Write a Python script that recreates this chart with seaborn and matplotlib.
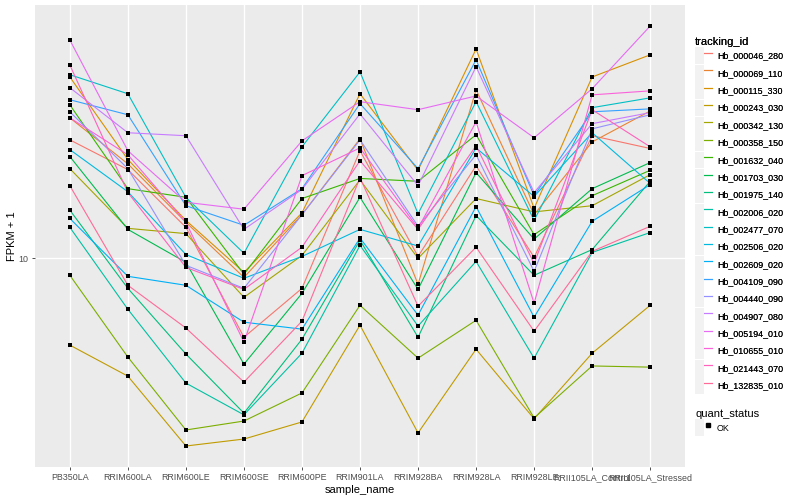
import numpy as np
import pandas as pd
import seaborn as sns
import matplotlib.pyplot as plt
from matplotlib.lines import Line2D
from matplotlib.patches import Patch
from matplotlib.legend_handler import HandlerTuple
from matplotlib.ticker import FixedLocator, FixedFormatter, NullLocator

# sample order on the x axis
samples = ['PB350LA', 'RRIM600LA', 'RRIM600LE', 'RRIM600SE', 'RRIM600PE', 'RRIM901LA',
           'RRIM928BA', 'RRIM928LA', 'RRIM928LE', 'RRII105LA_Control', 'RRII105LA_Stressed']

tracking_ids = ['Hb_000046_280', 'Hb_000069_110', 'Hb_000115_330', 'Hb_000243_030',
                'Hb_000342_130', 'Hb_000358_150', 'Hb_001632_040', 'Hb_001703_030',
                'Hb_001975_140', 'Hb_002006_020', 'Hb_002477_070', 'Hb_002506_020',
                'Hb_002609_020', 'Hb_004109_090', 'Hb_004440_090', 'Hb_004907_080',
                'Hb_005194_010', 'Hb_010655_010', 'Hb_021443_070', 'Hb_132835_010']

# FPKM + 1 per gene, one value per sample
hb_000046_280 = [24.9, 19.8, 12.7, 5.45, 7.94, 22.9, 10.15, 20.4, 10.08, 25.7, 23.3]
hb_000069_110 = [29.5, 20.7, 13.2, 8.64, 14.0, 25.1, 8.19, 36.6, 14.0, 24.5, 31.1]
hb_000115_330 = [40.4, 21.4, 13.4, 8.98, 14.2, 35.5, 19.7, 50.1, 14.7, 40.4, 47.9]
hb_000243_030 = [5.13, 4.04, 2.36, 2.49, 2.84, 5.98, 2.61, 4.97, 2.91, 4.82, 6.97]
hb_000342_130 = [19.95, 12.6, 12.1, 7.41, 10.23, 18.3, 10.0, 15.85, 14.3, 15.0, 19.05]
hb_000358_150 = [8.78, 4.68, 2.67, 2.86, 3.55, 6.97, 4.64, 6.21, 2.93, 4.37, 4.33]
hb_001632_040 = [32.6, 17.1, 16.0, 8.85, 15.85, 18.5, 18.1, 25.9, 12.0, 16.2, 19.7]
hb_001703_030 = [21.9, 12.5, 9.70, 4.43, 7.64, 16.0, 7.88, 19.35, 11.6, 17.1, 20.9]
hb_001975_140 = [14.5, 7.94, 4.79, 3.04, 5.37, 11.5, 5.45, 13.9, 8.78, 10.7, 18.1]
hb_002006_020 = [12.7, 6.76, 3.83, 3.00, 4.82, 11.05, 5.94, 9.77, 4.64, 10.47, 12.2]
hb_002477_070 = [41.1, 35.5, 16.0, 10.4, 23.6, 42.0, 14.1, 33.4, 13.4, 31.9, 34.4]
hb_002506_020 = [23.1, 16.7, 10.3, 8.58, 10.15, 12.5, 11.0, 23.4, 16.1, 26.3, 17.8]
hb_002609_020 = [13.6, 8.71, 8.13, 6.12, 5.80, 11.7, 6.46, 14.9, 6.36, 13.3, 17.65]
hb_004109_090 = [33.9, 30.2, 15.0, 12.9, 17.1, 32.9, 19.95, 46.1, 16.2, 30.9, 31.6]
hb_004440_090 = [30.9, 19.95, 9.48, 7.94, 14.0, 24.9, 12.8, 22.2, 9.05, 27.1, 30.2]
hb_004907_080 = [37.2, 26.3, 25.7, 12.5, 17.0, 30.4, 17.5, 43.7, 16.6, 28.2, 30.7]
hb_005194_010 = [53.7, 22.9, 15.4, 14.6, 24.7, 33.4, 31.4, 34.9, 25.3, 36.9, 59.8]
hb_010655_010 = [29.5, 22.2, 13.2, 5.25, 18.9, 23.4, 12.6, 28.6, 7.08, 35.2, 36.3]
hb_021443_070 = [44.3, 16.6, 9.33, 7.88, 10.9, 21.2, 12.5, 23.8, 9.62, 31.4, 23.6]
hb_132835_010 = [17.5, 8.13, 5.85, 3.86, 6.17, 18.6, 6.92, 10.9, 5.71, 10.55, 12.8]

series = [hb_000046_280, hb_000069_110, hb_000115_330, hb_000243_030, hb_000342_130,
          hb_000358_150, hb_001632_040, hb_001703_030, hb_001975_140, hb_002006_020,
          hb_002477_070, hb_002506_020, hb_002609_020, hb_004109_090, hb_004440_090,
          hb_004907_080, hb_005194_010, hb_010655_010, hb_021443_070, hb_132835_010]

rows = []
for tid, vals in zip(tracking_ids, series):
    for s, v in zip(samples, vals):
        rows.append({'tracking_id': tid, 'sample_name': s, 'fpkm': v, 'quant_status': 'OK'})
df = pd.DataFrame(rows)


def hcl_to_hex(h, c=100, l=65):
    # polar Luv -> sRGB, like ggplot's hue_pal
    hr = np.deg2rad(h)
    u, v = c * np.cos(hr), c * np.sin(hr)
    Xn, Yn, Zn = 95.047, 100.0, 108.883
    un = 4 * Xn / (Xn + 15 * Yn + 3 * Zn)
    vn = 9 * Yn / (Xn + 15 * Yn + 3 * Zn)
    Y = Yn * ((l + 16) / 116) ** 3
    up = u / (13 * l) + un
    vp = v / (13 * l) + vn
    X = Y * 9 * up / (4 * vp)
    Z = Y * (12 - 3 * up - 20 * vp) / (4 * vp)
    xyz = np.array([X, Y, Z]) / 100
    m = np.array([[3.2406, -1.5372, -0.4986],
                  [-0.9689, 1.8758, 0.0415],
                  [0.0557, -0.2040, 1.0570]])
    rgb = m @ xyz
    rgb = np.where(rgb <= 0.0031308, 12.92 * rgb, 1.055 * np.clip(rgb, 0, None) ** (1 / 2.4) - 0.055)
    rgb = np.clip(rgb, 0, 1)
    return '#%02x%02x%02x' % tuple(int(round(x * 255)) for x in rgb)


hues = np.linspace(15, 375, len(tracking_ids) + 1)[:-1]
palette = dict(zip(tracking_ids, [hcl_to_hex(h) for h in hues]))

plt.rcParams['font.family'] = ['Liberation Sans', 'DejaVu Sans']

fig = plt.figure(figsize=(8, 5), dpi=100)
ax = fig.add_axes([35 / 800, 33 / 500, 650 / 800, 462 / 500])
ax.set_facecolor('#EBEBEB')

sns.lineplot(data=df, x='sample_name', y='fpkm', hue='tracking_id', palette=palette,
             estimator=None, sort=False, linewidth=0.8, legend=False, ax=ax)
sns.scatterplot(data=df, x='sample_name', y='fpkm', color='black', marker='s', s=9,
                linewidth=0, legend=False, ax=ax, zorder=3)

ax.set_yscale('log')
lo, hi = np.log10(df['fpkm'].min()), np.log10(df['fpkm'].max())
pad = (hi - lo) * 0.05
ax.set_ylim(10 ** (lo - pad), 10 ** (hi + pad))
ax.set_xlim(-0.6, len(samples) - 0.4)
ax.yaxis.set_major_locator(FixedLocator([10]))
ax.yaxis.set_major_formatter(FixedFormatter(['10']))
ax.yaxis.set_minor_locator(NullLocator())

ax.grid(True, color='white', linewidth=1.0)
ax.set_axisbelow(True)
for sp in ax.spines.values():
    sp.set_visible(False)
ax.tick_params(axis='both', length=2.5, width=0.6, color='#333333',
               labelcolor='#4D4D4D', labelsize=6.4, pad=2)
ax.set_xlabel('sample_name', fontsize=8, color='black', labelpad=2)
ax.set_ylabel('FPKM + 1', fontsize=8, color='black', labelpad=1)

# legends in ggplot style
key_bg = '#F2F2F2'
leg_kw = dict(loc='upper left', frameon=False, fontsize=6.4, title_fontsize=8,
              handlelength=1.95, handleheight=2.55, labelspacing=0.05,
              handletextpad=0.5, borderpad=0, borderaxespad=0,
              handler_map={tuple: HandlerTuple(ndivide=None)}, alignment='left')
handles = [(Patch(facecolor=key_bg, edgecolor='none'),
            Line2D([], [], color=palette[t], lw=0.8)) for t in tracking_ids]
leg1 = fig.legend(handles, tracking_ids, title='tracking_id',
                  bbox_to_anchor=(695 / 800, 1 - 37 / 500), **leg_kw)
fig.add_artist(leg1)
h2 = [(Patch(facecolor=key_bg, edgecolor='none'),
       Line2D([], [], color='black', marker='s', markersize=2.8, lw=0))]
fig.legend(h2, ['OK'], title='quant_status',
           bbox_to_anchor=(695 / 800, 1 - 409 / 500), **leg_kw)

fig.savefig('out.png', dpi=100)
